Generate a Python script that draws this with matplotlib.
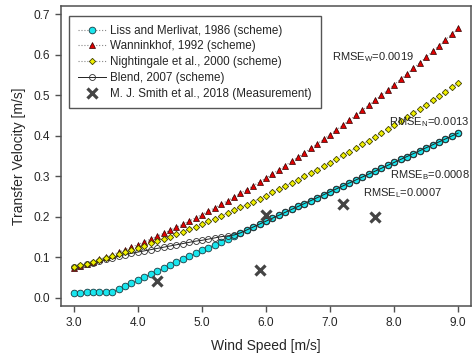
import matplotlib
matplotlib.use("Agg")
import matplotlib.pyplot as plt
from matplotlib.ticker import FormatStrFormatter

plt.rcParams['font.family'] = ['Liberation Sans', 'DejaVu Sans']

wind = [round(3.0 + 0.1 * i, 1) for i in range(61)]

liss = [0.0125, 0.0130, 0.0135, 0.0140, 0.0140, 0.0145, 0.0150, 0.0228, 0.0300, 0.0373,
        0.0445, 0.0517, 0.0590, 0.0662, 0.0735, 0.0807, 0.0879, 0.0952, 0.1024, 0.1097,
        0.1169, 0.1241, 0.1314, 0.1386, 0.1459, 0.1531, 0.1603, 0.1676, 0.1748, 0.1821,
        0.1893, 0.1966, 0.2038, 0.2110, 0.2183, 0.2255, 0.2328, 0.2400, 0.2472, 0.2545,
        0.2617, 0.2690, 0.2762, 0.2834, 0.2907, 0.2979, 0.3052, 0.3124, 0.3196, 0.3269,
        0.3341, 0.3414, 0.3486, 0.3558, 0.3631, 0.3703, 0.3776, 0.3848, 0.3920, 0.3993,
        0.4065]

wanninkhof = [0.0740, 0.0790, 0.0842, 0.0895, 0.0950, 0.1007, 0.1065, 0.1125, 0.1187, 0.1250,
              0.1315, 0.1382, 0.1450, 0.1520, 0.1591, 0.1665, 0.1739, 0.1816, 0.1894, 0.1974,
              0.2055, 0.2138, 0.2223, 0.2309, 0.2397, 0.2487, 0.2578, 0.2671, 0.2765, 0.2861,
              0.2959, 0.3059, 0.3160, 0.3263, 0.3367, 0.3473, 0.3581, 0.3690, 0.3801, 0.3914,
              0.4028, 0.4144, 0.4261, 0.4380, 0.4501, 0.4624, 0.4748, 0.4874, 0.5001, 0.5130,
              0.5261, 0.5393, 0.5527, 0.5663, 0.5800, 0.5939, 0.6080, 0.6222, 0.6366, 0.6511,
              0.6658]

nightingale = [0.0757, 0.0800, 0.0843, 0.0888, 0.0934, 0.0981, 0.1030, 0.1079, 0.1129, 0.1181,
               0.1234, 0.1288, 0.1343, 0.1399, 0.1456, 0.1514, 0.1574, 0.1634, 0.1696, 0.1759,
               0.1823, 0.1888, 0.1954, 0.2021, 0.2090, 0.2159, 0.2230, 0.2302, 0.2374, 0.2448,
               0.2524, 0.2600, 0.2677, 0.2756, 0.2835, 0.2916, 0.2998, 0.3081, 0.3165, 0.3250,
               0.3337, 0.3424, 0.3513, 0.3603, 0.3693, 0.3785, 0.3879, 0.3973, 0.4068, 0.4164,
               0.4262, 0.4361, 0.4461, 0.4562, 0.4664, 0.4767, 0.4871, 0.4977, 0.5083, 0.5191,
               0.5300]

blend = [0.0750, 0.0790, 0.0830, 0.0870, 0.0910, 0.0950, 0.0990, 0.1030, 0.1070, 0.1100,
         0.1130, 0.1160, 0.1190, 0.1220, 0.1250, 0.1280, 0.1310, 0.1340, 0.1370, 0.1400,
         0.1420, 0.1450, 0.1480, 0.1510, 0.1530, 0.1550, 0.1603, 0.1676, 0.1748, 0.1821,
         0.1893, 0.1966, 0.2038, 0.2110, 0.2183, 0.2255, 0.2328, 0.2400, 0.2472, 0.2545,
         0.2617, 0.2690, 0.2762, 0.2834, 0.2907, 0.2979, 0.3052, 0.3124, 0.3196, 0.3269,
         0.3341, 0.3414, 0.3486, 0.3558, 0.3631, 0.3703, 0.3776, 0.3848, 0.3920, 0.3993,
         0.4065]

meas_wind = [4.3, 5.9, 6.0, 7.2, 7.7]
meas_k = [0.041, 0.070, 0.204, 0.232, 0.199]

rmse_labels = ['RMSE$_\\mathregular{W}$=0.0019', 'RMSE$_\\mathregular{N}$=0.0013',
               'RMSE$_\\mathregular{B}$=0.0008', 'RMSE$_\\mathregular{L}$=0.0007']
rmse_x = [7.03, 7.92, 7.94, 7.52]
rmse_y = [0.594, 0.434, 0.303, 0.259]

x_ticks = [3.0, 4.0, 5.0, 6.0, 7.0, 8.0, 9.0]
y_ticks = [0.0, 0.1, 0.2, 0.3, 0.4, 0.5, 0.6, 0.7]

txt = '#262626'
spc = '#505050'

fig = plt.figure(figsize=(4.72, 3.57), dpi=100)
ax = fig.add_axes([61 / 472, 1 - 306 / 357, 410 / 472, 300 / 357])

ax.plot(wind, wanninkhof, linestyle=':', color='#888888', lw=0.8, marker='^', ms=4.6,
        mfc='#e00000', mec='#300000', mew=0.5, zorder=2, label='Wanninkhof, 1992 (scheme)')
ax.plot(wind, liss, linestyle=':', color='#888888', lw=0.8, marker='o', ms=4.8,
        mfc='#19e6ee', mec='#1a3a40', mew=0.6, zorder=3, label='Liss and Merlivat, 1986 (scheme)')
ax.plot(wind, blend, linestyle='-', color='#222222', lw=0.7, marker='o', ms=4.3,
        mfc='none', mec='#303030', mew=0.6, zorder=4, label='Blend, 2007 (scheme)')
ax.plot(wind, nightingale, linestyle=':', color='#888888', lw=0.8, marker='D', ms=3.2,
        mfc='#f0f000', mec='#404000', mew=0.6, zorder=5, label='Nightingale et al., 2000 (scheme)')
ax.plot(meas_wind, meas_k, linestyle='none', marker='x', ms=7, mew=2.3, color='#444444',
        zorder=6, label='M. J. Smith et al., 2018 (Measurement)')

for lab, xx, yy in zip(rmse_labels, rmse_x, rmse_y):
    ax.text(xx, yy, lab, fontsize=8.0, color=txt, ha='left', va='center', zorder=7)

ax.set_xlim(2.8, 9.2)
ax.set_ylim(-0.02, 0.72)
ax.set_xticks(x_ticks)
ax.set_yticks(y_ticks)
ax.xaxis.set_major_formatter(FormatStrFormatter('%.1f'))
ax.yaxis.set_major_formatter(FormatStrFormatter('%.1f'))
ax.tick_params(direction='out', length=4, width=1, color=spc, labelsize=8.6,
               labelcolor=txt, pad=4)
for s in ax.spines.values():
    s.set_color(spc)
    s.set_linewidth(1.1)

ax.set_xlabel('Wind Speed [m/s]', fontsize=10, color=txt, labelpad=7)
ax.set_ylabel('Transfer Velocity [m/s]', fontsize=10, color=txt, labelpad=5)

h, l = ax.get_legend_handles_labels()
order = [1, 0, 3, 2, 4]
leg = ax.legend([h[i] for i in order], [l[i] for i in order], loc='upper left',
                bbox_to_anchor=(0.0195, 0.967), borderaxespad=0, fontsize=8.4,
                frameon=True, fancybox=False, edgecolor='#555555', framealpha=1,
                handlelength=2.4, handletextpad=0.4, labelspacing=0.32, borderpad=0.75)
leg.get_frame().set_linewidth(1.0)
for t in leg.get_texts():
    t.set_color(txt)

fig.savefig('out.png', dpi=100)
